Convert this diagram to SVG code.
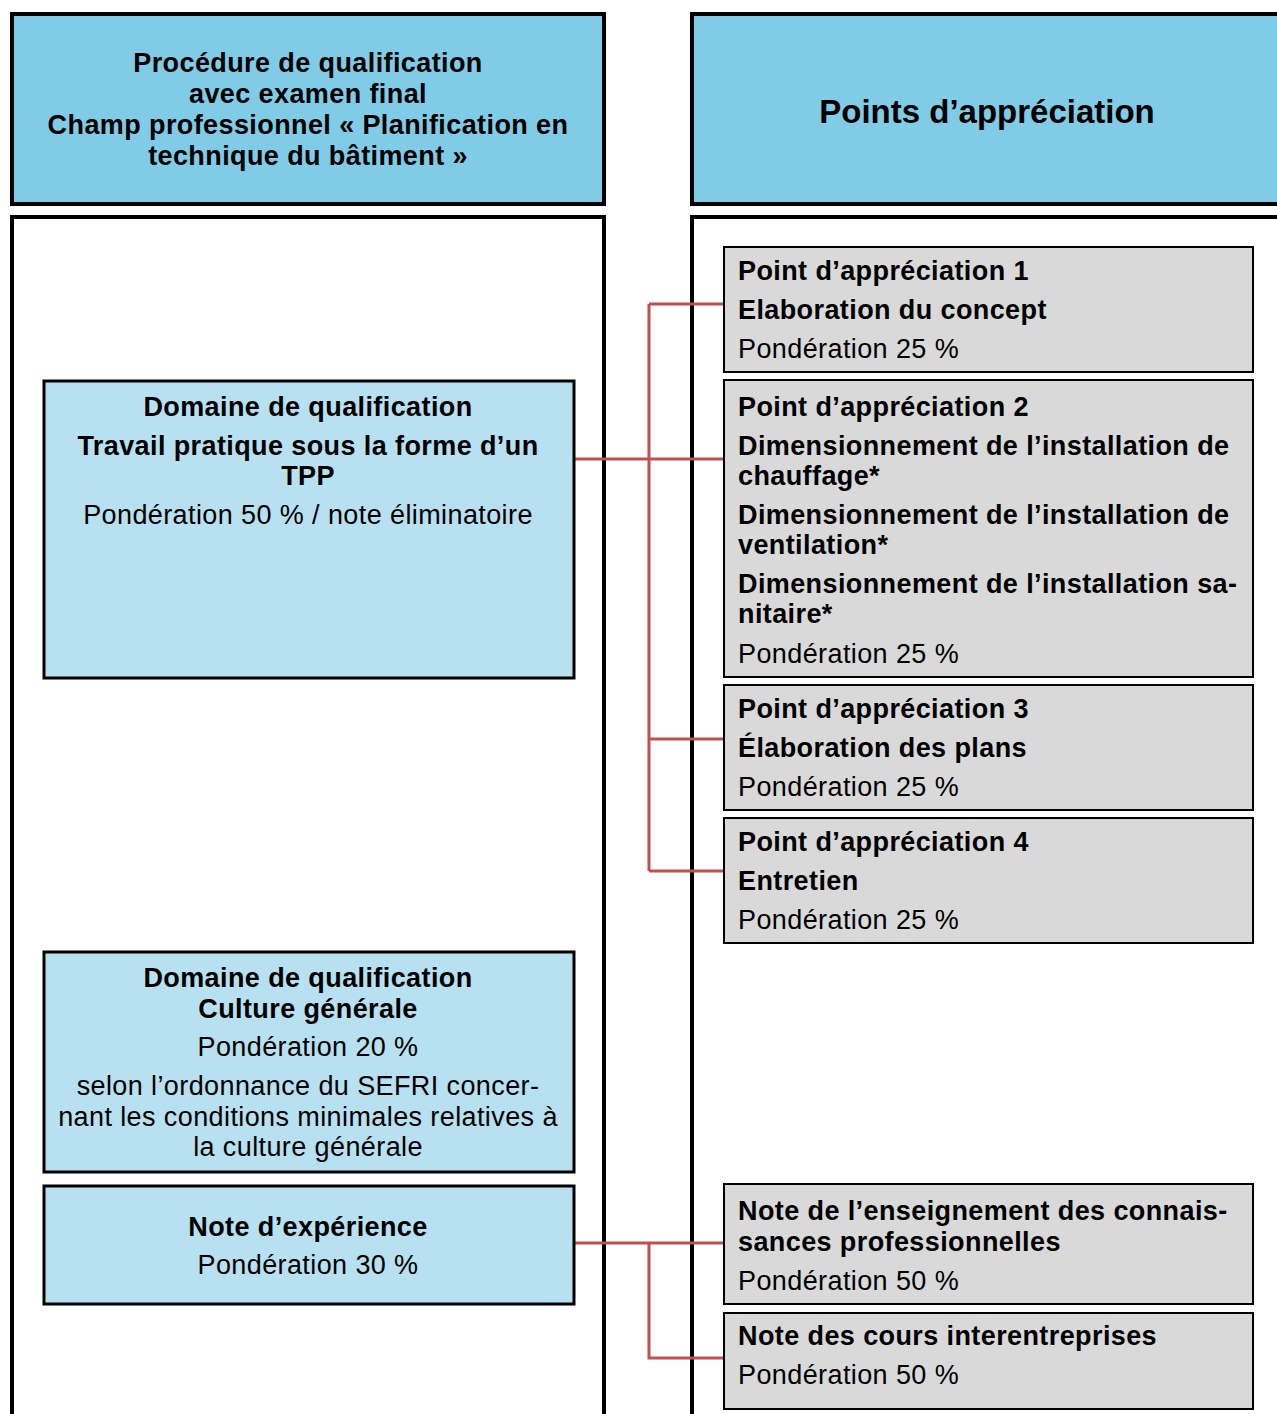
<svg xmlns="http://www.w3.org/2000/svg" width="1277" height="1414" viewBox="0 0 1277 1414">
<style>
text{font-family:"Liberation Sans",Arial,sans-serif;font-size:27px;fill:#000;letter-spacing:0.4px}
.b{font-weight:bold}
.c{text-anchor:middle}
.hdr{fill:#80CCE6;stroke:#000;stroke-width:4}
.frame{fill:none;stroke:#000;stroke-width:4}
.blue{fill:#B7E1F0;stroke:#000;stroke-width:3}
.gray{fill:#D9D9D9;stroke:#000;stroke-width:2}
.con{fill:none;stroke:#C0504D;stroke-width:3}
</style>
<rect width="1277" height="1414" fill="#fff"/>
<g id="header-left">
<rect class="hdr" x="12" y="14" width="592" height="190"/>
<text class="b c" x="308" y="72">Procédure de qualification</text>
<text class="b c" x="308" y="103">avec examen final</text>
<text class="b c" x="308" y="134">Champ professionnel « Planification en</text>
<text class="b c" x="308" y="165">technique du bâtiment »</text>
</g>
<g id="header-right">
<rect class="hdr" x="692" y="14" width="600" height="190"/>
<text class="b c" x="987" y="123" style="font-size:33px;letter-spacing:0">Points d’appréciation</text>
</g>
<g id="frames">
<rect class="frame" x="12" y="217" width="592" height="1220"/>
<rect class="frame" x="692" y="217" width="600" height="1220"/>
</g>
<g id="connectors">
<path class="con" d="M574 459H723M649 304V871M649 304H723M649 739H723M649 871H723"/>
<path class="con" d="M574 1243H723M649 1243V1358H723"/>
</g>
<g id="tpp">
<rect class="blue" x="44" y="381" width="530" height="297"/>
<text class="b c" x="308" y="416">Domaine de qualification</text>
<text class="b c" x="308" y="455">Travail pratique sous la forme d’un</text>
<text class="b c" x="308" y="485">TPP</text>
<text class="c" x="308" y="524">Pondération 50 % / note éliminatoire</text>
</g>
<g id="culture">
<rect class="blue" x="44" y="952" width="530" height="220"/>
<text class="b c" x="308" y="987">Domaine de qualification</text>
<text class="b c" x="308" y="1018">Culture générale</text>
<text class="c" x="308" y="1056">Pondération 20 %</text>
<text class="c" x="308" y="1095">selon l’ordonnance du SEFRI concer-</text>
<text class="c" x="308" y="1126">nant les conditions minimales relatives à</text>
<text class="c" x="308" y="1156">la culture générale</text>
</g>
<g id="experience">
<rect class="blue" x="44" y="1186" width="530" height="118"/>
<text class="b c" x="308" y="1236">Note d’expérience</text>
<text class="c" x="308" y="1274">Pondération 30 %</text>
</g>
<g id="pa1">
<rect class="gray" x="724" y="247" width="529" height="125"/>
<text class="b" x="738" y="280">Point d’appréciation 1</text>
<text class="b" x="738" y="319">Elaboration du concept</text>
<text x="738" y="358">Pondération 25 %</text>
</g>
<g id="pa2">
<rect class="gray" x="724" y="380" width="529" height="297"/>
<text class="b" x="738" y="416">Point d’appréciation 2</text>
<text class="b" x="738" y="455">Dimensionnement de l’installation de</text>
<text class="b" x="738" y="485">chauffage*</text>
<text class="b" x="738" y="524">Dimensionnement de l’installation de</text>
<text class="b" x="738" y="554">ventilation*</text>
<text class="b" x="738" y="593">Dimensionnement de l’installation sa-</text>
<text class="b" x="738" y="623">nitaire*</text>
<text x="738" y="663">Pondération 25 %</text>
</g>
<g id="pa3">
<rect class="gray" x="724" y="685" width="529" height="125"/>
<text class="b" x="738" y="718">Point d’appréciation 3</text>
<text class="b" x="738" y="757">Élaboration des plans</text>
<text x="738" y="796">Pondération 25 %</text>
</g>
<g id="pa4">
<rect class="gray" x="724" y="818" width="529" height="125"/>
<text class="b" x="738" y="851">Point d’appréciation 4</text>
<text class="b" x="738" y="890">Entretien</text>
<text x="738" y="929">Pondération 25 %</text>
</g>
<g id="note-connaissances">
<rect class="gray" x="724" y="1184" width="529" height="120"/>
<text class="b" x="738" y="1220">Note de l’enseignement des connais-</text>
<text class="b" x="738" y="1251">sances professionnelles</text>
<text x="738" y="1290">Pondération 50 %</text>
</g>
<g id="note-cie">
<rect class="gray" x="724" y="1313" width="529" height="96"/>
<text class="b" x="738" y="1345">Note des cours interentreprises</text>
<text x="738" y="1384">Pondération 50 %</text>
</g>
</svg>
